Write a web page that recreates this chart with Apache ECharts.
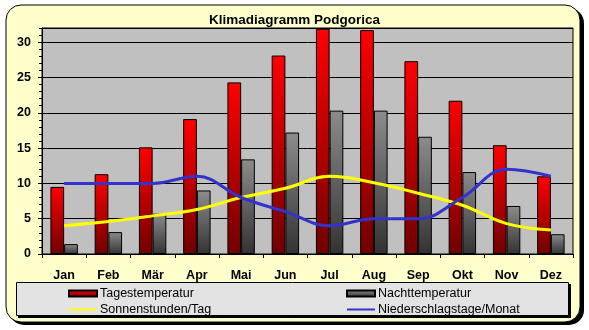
<!DOCTYPE html>
<html><head><meta charset="utf-8">
<script src="https://cdn.jsdelivr.net/npm/echarts@6/dist/echarts.min.js"></script>
<style>html,body{margin:0;padding:0;background:#fff}#c{width:589px;height:330px}</style>
</head><body><div id="c"></div>
<script>
var months = ['Jan','Feb','Mär','Apr','Mai','Jun','Jul','Aug','Sep','Okt','Nov','Dez'];
var tagesTemp = [9.5,11.3,15.1,19.1,24.3,28.1,31.9,31.7,27.3,21.7,15.4,11.0];
var nachtTemp = [1.4,3.1,5.7,9.0,13.4,17.2,20.3,20.3,16.6,11.6,6.8,2.8];
var sonne = [4.0,4.6,5.4,6.3,8.0,9.3,11.0,10.1,8.6,6.9,4.3,3.4];
var regen = [10,10,10,11,8,6,4,5,5,8,12,11];
var names = ['Tagestemperatur','Nachttemperatur','Sonnenstunden/Tag','Niederschlagstage/Monat'];

var chart = echarts.init(document.getElementById('c'), null, {renderer:'canvas'});
var redGrad = new echarts.graphic.LinearGradient(0,0,0,1,[{offset:0,color:'#FF0000'},{offset:1,color:'#700000'}]);
var grayGrad = new echarts.graphic.LinearGradient(0,0,0,1,[{offset:0,color:'#8C8C8C'},{offset:1,color:'#333333'}]);
var font = 'Liberation Sans, Arial, sans-serif';
var legText = {fontFamily:font,fontSize:12.5,color:'#000',lineHeight:15,padding:[0,0,0,-2]};
chart.setOption({
  animation:false,
  backgroundColor:'#fff',
  title:{text:'Klimadiagramm Podgorica',left:'center',top:8,textStyle:{fontFamily:font,fontSize:13.5,fontWeight:'bold',color:'#000'}},
  graphic:[
    {type:'rect',z:-20,shape:{x:9,y:8,width:575,height:317,r:15},style:{fill:'#000'}},
    {type:'rect',z:-19,shape:{x:6,y:5,width:574,height:317,r:15},style:{fill:'#FFFFCC',stroke:'#000',lineWidth:1}},
    {type:'rect',z:-18,shape:{x:18,y:284,width:553,height:34},style:{fill:'#000'}},
    {type:'rect',z:-17,shape:{x:16.5,y:282.5,width:552,height:33},style:{fill:'#E3E3E3',stroke:'#000',lineWidth:1}}
  ],
  legend:[
    {orient:'vertical',left:68,top:286,padding:0,itemWidth:28,itemHeight:6,itemGap:1,
     data:[{name:names[0],icon:'rect'},{name:names[2],itemStyle:{opacity:0}}],
     textStyle:legText},
    {orient:'vertical',left:346,top:286,padding:0,itemWidth:28,itemHeight:6,itemGap:1,
     data:[{name:names[1],icon:'rect'},{name:names[3],itemStyle:{opacity:0}}],
     textStyle:legText}
  ],
  grid:{left:42,top:28,width:531,height:226,show:true,backgroundColor:'#C0C0C0',borderColor:'#000',borderWidth:1},
  xAxis:{type:'category',data:months,boundaryGap:true,
    axisLine:{lineStyle:{color:'#000',width:1}},
    axisTick:{show:true,length:4,inside:false,lineStyle:{color:'#000'}},
    axisLabel:{margin:15,color:'#000',fontFamily:font,fontSize:12.5,fontWeight:'bold'}},
  yAxis:[
    {type:'value',min:0,max:32,interval:5,
     axisLine:{show:true,lineStyle:{color:'#000'}},
     axisTick:{show:true,length:4,lineStyle:{color:'#000'}},
     axisLabel:{margin:11,color:'#000',fontFamily:font,fontSize:12.5,fontWeight:'bold',showMaxLabel:false,
       formatter:function(v){return v===32?'':v;}},
     splitLine:{show:true,lineStyle:{color:'#000',width:1}}},
    {type:'value',min:0,max:32,interval:1,position:'left',
     axisLine:{show:false},axisTick:{show:true,length:3,lineStyle:{color:'#000'}},
     axisLabel:{show:false},splitLine:{show:false}}
  ],
  series:[
    {name:names[0],type:'bar',data:tagesTemp,barWidth:'31%',barGap:'0%',
     itemStyle:{color:redGrad,borderColor:'#000',borderWidth:1}},
    {name:names[1],type:'bar',data:nachtTemp,barWidth:'31%',barGap:'0%',
     itemStyle:{color:grayGrad,borderColor:'#000',borderWidth:1}},
    {name:names[2],type:'line',data:sonne,smooth:0.4,symbol:'none',
     lineStyle:{color:'#FFFF00',width:3},itemStyle:{color:'#FFFF00'}},
    {name:names[3],type:'line',data:regen,smooth:0.4,symbol:'none',
     lineStyle:{color:'#3333CC',width:3},itemStyle:{color:'#3333CC'}}
  ]
});
</script></body></html>
